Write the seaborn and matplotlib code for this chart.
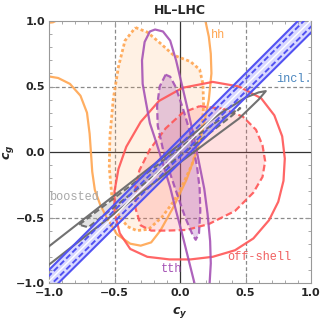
import matplotlib
matplotlib.use('Agg')
import matplotlib.pyplot as plt
from matplotlib.ticker import MultipleLocator
import seaborn as sns

# ---------------- data ----------------
tick_vals = [-1.0, -0.5, 0.0, 0.5, 1.0]
tick_labels = ['\u22121.0', '\u22120.5', '0.0', '0.5', '1.0']

# off-shell (red)
red_outer_x = [0.25, 0.45, 0.62, 0.72, 0.78, 0.80, 0.79, 0.75, 0.68, 0.56, 0.42, 0.25, 0.08, -0.08,
               -0.25, -0.38, -0.46, -0.50, -0.50, -0.47, -0.41, -0.30, -0.16, 0.02, 0.25]
red_outer_y = [0.535, 0.50, 0.41, 0.28, 0.12, -0.05, -0.22, -0.38, -0.52, -0.66, -0.75, -0.80, -0.82, -0.82,
               -0.80, -0.74, -0.62, -0.46, -0.30, -0.13, 0.04, 0.23, 0.39, 0.49, 0.535]
red_inner_x = [0.15, 0.33, 0.48, 0.58, 0.63, 0.65, 0.63, 0.56, 0.42, 0.22, 0.05, -0.10, -0.22, -0.30,
               -0.34, -0.34, -0.31, -0.23, -0.11, 0.02, 0.15]
red_inner_y = [0.35, 0.33, 0.27, 0.17, 0.05, -0.07, -0.19, -0.31, -0.45, -0.55, -0.595, -0.60, -0.60, -0.56,
               -0.43, -0.27, -0.14, 0.02, 0.18, 0.30, 0.35]

# hh (orange)
hh_outer_x = [-1.02, -0.93, -0.84, -0.76, -0.71, -0.69, -0.68, -0.67, -0.65, -0.61, -0.56, -0.48, -0.38, -0.30,
              -0.22, -0.15, -0.05, 0.05, 0.13, 0.18, 0.22, 0.24, 0.235, 0.22, 0.19]
hh_outer_y = [0.58, 0.565, 0.52, 0.43, 0.30, 0.14, 0.00, -0.15, -0.29, -0.40, -0.50, -0.63, -0.70, -0.715,
              -0.69, -0.60, -0.42, -0.21, 0.01, 0.20, 0.40, 0.60, 0.75, 0.88, 1.02]
hh_corner_x = [-1.02, -0.97, -0.93]
hh_corner_y = [0.985, 0.99, 1.01]
hh_inner_x = [-0.34, -0.25, -0.15, -0.05, 0.08, 0.15, 0.175, 0.18, 0.17, 0.14, 0.09, 0.02, -0.05, -0.14,
              -0.24, -0.33, -0.40, -0.47, -0.52, -0.54, -0.535, -0.51, -0.47, -0.42, -0.34]
hh_inner_y = [0.95, 0.915, 0.83, 0.74, 0.69, 0.63, 0.52, 0.36, 0.20, 0.05, -0.10, -0.25, -0.38, -0.50,
              -0.59, -0.60, -0.57, -0.48, -0.34, -0.12, 0.12, 0.40, 0.65, 0.85, 0.95]

# tth (purple)
tth_outer_x = [0.115, 0.08, 0.015, -0.03, -0.075, -0.13, -0.18, -0.23, -0.26, -0.285, -0.29, -0.27, -0.23,
               -0.19, -0.13, -0.075, -0.03, 0.02, 0.06, 0.105, 0.145, 0.185, 0.21, 0.23, 0.235, 0.225]
tth_outer_y = [-1.02, -0.88, -0.62, -0.45, -0.27, -0.09, 0.07, 0.22, 0.38, 0.52, 0.70, 0.84, 0.92,
               0.935, 0.92, 0.85, 0.70, 0.49, 0.32, 0.12, -0.08, -0.28, -0.47, -0.68, -0.85, -1.02]
tth_inner_x = [-0.11, -0.155, -0.175, -0.17, -0.13, -0.08, -0.03, 0.04, 0.095, 0.12, 0.145, 0.155, 0.15,
               0.13, 0.08, 0.02, -0.035, -0.075, -0.11]
tth_inner_y = [0.59, 0.50, 0.35, 0.20, 0.02, -0.15, -0.30, -0.50, -0.63, -0.67, -0.62, -0.45, -0.28,
               -0.11, 0.14, 0.34, 0.50, 0.575, 0.59]

# boosted (gray)
boost_outer_x = [-1.05, -1.0, -0.75, -0.5, -0.25, 0.0, 0.3, 0.5, 0.6, 0.655,
                 0.6, 0.45, 0.2, 0.0, -0.25, -0.5, -0.75, -1.0, -1.05]
boost_outer_y = [-0.76, -0.72, -0.525, -0.33, -0.135, 0.06, 0.29, 0.415, 0.455, 0.465,
                 0.40, 0.255, 0.07, -0.08, -0.275, -0.47, -0.665, -0.86, -0.90]
boost_inner_x = [-0.77, -0.5, -0.2, 0.05, 0.30, 0.46, 0.40, 0.15, -0.15, -0.45, -0.70, -0.77]
boost_inner_y = [-0.555, -0.35, -0.12, 0.07, 0.245, 0.335, 0.28, 0.085, -0.145, -0.38, -0.575, -0.555]

# inclusive (blue band)
incl_x = [-1.2, 1.2]
incl_up2 = [-1.10, 1.30]
incl_up1 = [-1.145, 1.255]
incl_mid = [-1.185, 1.205]
incl_lo1 = [-1.225, 1.155]
incl_lo2 = [-1.27, 1.11]

# labels
lab_text = ['hh', 'incl.', 'boosted', 'off-shell', 'tth']
lab_x = [0.235, 0.735, -0.995, 0.36, -0.145]
lab_y = [0.89, 0.56, -0.345, -0.80, -0.895]

# ---------------- styling ----------------
C_OR = '#ffa550'
C_RED = '#ff5555'
C_PUR = '#a552b5'
C_GRY = '#6a6a6a'
C_BLU = '#5252f2'
lab_col = [C_OR, '#4a86bf', '#a8a8a8', '#f06060', C_PUR]

sns.set_style('ticks')
plt.rcParams['mathtext.fontset'] = 'custom'
plt.rcParams['mathtext.it'] = 'DejaVu Sans:italic:bold'
plt.rcParams['mathtext.rm'] = 'DejaVu Sans:bold'
plt.rcParams['font.family'] = ['DejaVu Sans']

fig = plt.figure(figsize=(3.31, 3.22), dpi=100)
ax = fig.add_axes([49 / 331, 1 - 283 / 322, 262 / 331, 262 / 322])


def line(x, y, color, ls='-', lw=1.6, z=3, alpha=1.0):
    sns.lineplot(x=x, y=y, sort=False, estimator=None, color=color, linestyle=ls,
                 linewidth=lw, ax=ax, zorder=z, alpha=alpha)


# fills
ax.fill(hh_inner_x, hh_inner_y, color=C_OR, alpha=0.15, lw=0, zorder=1)
ax.fill(red_inner_x, red_inner_y, color=C_RED, alpha=0.18, lw=0, zorder=1.1)
ax.fill(tth_inner_x, tth_inner_y, color=C_PUR, alpha=0.28, lw=0, zorder=1.2)
ax.fill(boost_inner_x, boost_inner_y, color='#b0b0b0', alpha=0.35, lw=0, zorder=1.3)
ax.fill_between(incl_x, incl_lo2, incl_up2, color='#6a6aff', alpha=0.26, lw=0, zorder=1.4)

# reference lines
for v in [-0.5, 0.5]:
    ax.axvline(v, color='#8a8a8a', ls=(0, (3, 2)), lw=0.9, zorder=0.5)
    ax.axhline(v, color='#8a8a8a', ls=(0, (3, 2)), lw=0.9, zorder=0.5)
ax.axvline(0, color='#333333', lw=0.9, zorder=0.6)
ax.axhline(0, color='#333333', lw=0.9, zorder=0.6)

# contour lines
line(hh_outer_x, hh_outer_y, C_OR, '-', 1.6, 2, 0.9)
line(hh_corner_x, hh_corner_y, C_OR, '-', 1.6, 2, 0.9)
line(hh_inner_x, hh_inner_y, C_OR, (0, (1.1, 0.9)), 2.0, 2, 0.9)
line(red_outer_x, red_outer_y, C_RED, '-', 1.6, 2.2, 0.9)
line(red_inner_x, red_inner_y, C_RED, (0, (3, 1.5)), 1.6, 2.2, 0.9)
line(tth_outer_x, tth_outer_y, C_PUR, '-', 1.6, 2.4, 0.9)
line(tth_inner_x, tth_inner_y, C_PUR, (0, (3, 1.5)), 1.6, 2.4, 0.9)
line(boost_outer_x, boost_outer_y, C_GRY, '-', 1.5, 2.6, 0.95)
line(boost_inner_x, boost_inner_y, C_GRY, (0, (3, 1.5)), 1.5, 2.6, 0.95)
line(incl_x, incl_up2, C_BLU, '-', 1.5, 2.8)
line(incl_x, incl_lo2, C_BLU, '-', 1.5, 2.8)
line(incl_x, incl_mid, 'white', '-', 1.0, 2.8)
line(incl_x, incl_up1, C_BLU, (0, (3, 1.5)), 1.4, 2.8)
line(incl_x, incl_lo1, C_BLU, (0, (3, 1.5)), 1.4, 2.8)

for t, x, y, c in zip(lab_text, lab_x, lab_y, lab_col):
    ax.text(x, y, t, color=c, fontsize=8.6, family='Liberation Mono', ha='left', va='center', zorder=5)

ax.set_xlim(-1, 1)
ax.set_ylim(-1, 1)
ax.set_xticks(tick_vals)
ax.set_xticklabels(tick_labels, fontweight='bold', fontsize=8)
ax.set_yticks(tick_vals)
ax.set_yticklabels(tick_labels, fontweight='bold', fontsize=8)
ax.xaxis.set_minor_locator(MultipleLocator(0.1))
ax.yaxis.set_minor_locator(MultipleLocator(0.1))
ax.tick_params(which='both', direction='in', top=True, right=True, color='#999999')
ax.tick_params(axis='x', which='major', pad=3.5)
ax.tick_params(axis='y', which='major', pad=3)
ax.tick_params(which='major', length=4, width=0.7)
ax.tick_params(which='minor', length=2, width=0.6)
for s in ax.spines.values():
    s.set_color('#999999')
    s.set_linewidth(0.8)

ax.set_xlabel(r'$c_y$', fontsize=9)
ax.set_ylabel(r'$c_g$', fontsize=9)
ax.xaxis.set_label_coords(0.5, -0.083)
ax.yaxis.set_label_coords(-0.125, 0.5)
ax.set_title('HL\u2013LHC', fontsize=9, fontweight='bold', pad=5)

fig.savefig('out.png', dpi=100)
